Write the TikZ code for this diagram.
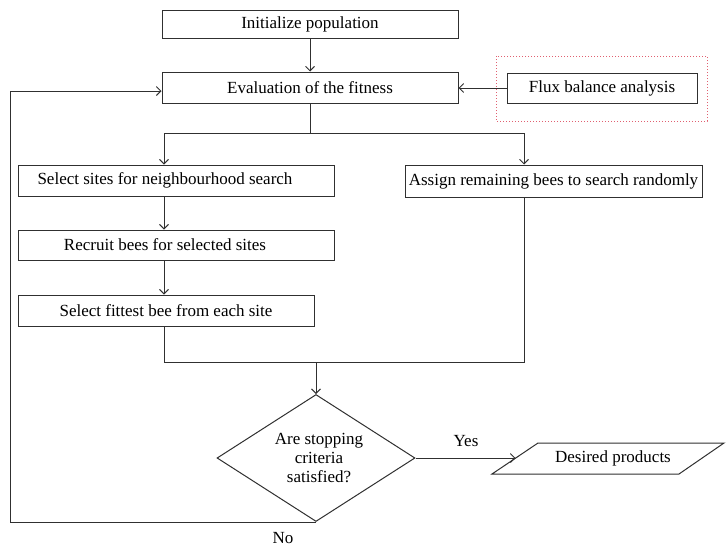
\documentclass[tikz,border=0pt]{standalone}
\usepackage{fontspec}
\setmainfont{Liberation Serif}
\usetikzlibrary{arrows.meta,shapes.geometric}
\definecolor{ln}{HTML}{303030}
\definecolor{dotred}{HTML}{E06070}
\newcommand{\shiftedtext}[3]{\makebox[#1][c]{\hspace*{#2}#3}}
\tikzset{
  x=1pt,y=-1pt,
  every node/.style={font=\fontsize{17}{19}\selectfont, text=black},
  stepbox/.style={draw=ln, line width=1pt, rectangle, inner sep=0pt},
  conn/.style={draw=ln, line width=0.9pt},
  arr/.style={conn, -{Straight Barb[length=4.5pt,width=9pt]}},
}
\begin{document}
\begin{tikzpicture}
\useasboundingbox (0,0) rectangle (728,552);
\node[stepbox, minimum width=296, minimum height=28] (init) at (310,24) {Initialize population};
\node[stepbox, minimum width=296, minimum height=31] (eval) at (310,87.5) {Evaluation of the fitness};
\node[stepbox, minimum width=190, minimum height=30] (flux) at (602,88) {Flux balance analysis};
\draw[dotred, dotted, line width=1pt] (496,56) rectangle (707,121);
\node[stepbox, minimum width=316, minimum height=31] (sel) at (176,180.5) {\shiftedtext{316pt}{-22pt}{Select sites for neighbourhood search}};
\node[stepbox, minimum width=297, minimum height=32] (assign) at (553.5,181) {Assign remaining bees to search randomly};
\node[stepbox, minimum width=316, minimum height=30] (recruit) at (176,245) {\shiftedtext{316pt}{-22pt}{Recruit bees for selected sites}};
\node[stepbox, minimum width=296, minimum height=31] (fittest) at (166,310.5) {Select fittest bee from each site};
\node[draw=ln, line width=1pt, diamond, aspect=1.56, inner sep=0pt, minimum width=198, minimum height=127, align=center] (dec) at (316,458) {\hspace*{6pt}Are stopping\\\hspace*{6pt}criteria\\\hspace*{6pt}satisfied?};
\node (prod) at (613,458.5) {Desired products};
\draw[ln, line width=1pt] (538,443) -- (724,443) -- (679,474) -- (492,474) -- cycle;
\coordinate (prodw) at (515.5,458);
\coordinate (j1) at (310,133);
\coordinate (jl) at (164,133);
\coordinate (jr) at (524,133);
\coordinate (jbl) at (164,362);
\coordinate (jbr) at (524,362);
\coordinate (jbm) at (316,362);
\coordinate (lb) at (10,522);
\coordinate (lt) at (10,91);
\node (yes) at (466,441) {Yes};
\node (no) at (283,538) {No};
% connectors
\draw[arr] (init.south) -- (eval.north);
\draw[arr] (flux.west) -- (flux.west -| eval.east);
\draw[conn] (eval.south) -- (j1);
\draw[conn] (jl) -- (jr);
\draw[arr] (jl) -- (jl |- sel.north);
\draw[arr] (jr) -- (jr |- assign.north);
\draw[arr] (jl |- sel.south) -- (jl |- recruit.north);
\draw[arr] (jl |- recruit.south) -- (jl |- fittest.north);
\draw[conn] (jl |- fittest.south) -- (jbl) -- (jbr) -- (jr |- assign.south);
\draw[arr] (jbm) -- (dec.north);
\draw[arr] (dec.east) -- (prodw);
\draw[arr] (dec.south) -- (lb) -- (lt) -- (lt -| eval.west);
\end{tikzpicture}
\end{document}
